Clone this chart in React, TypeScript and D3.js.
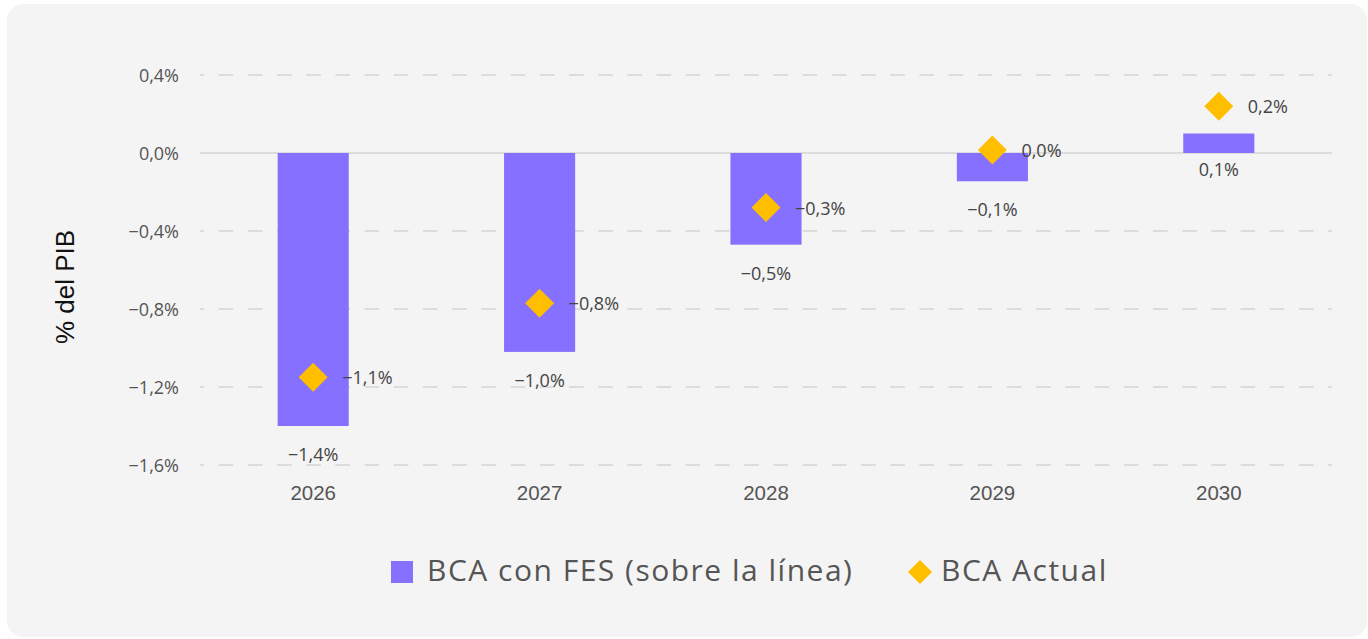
import React from "react";
import * as d3 from "d3";

const years = ["2026", "2027", "2028", "2029", "2030"];
const bcaFes = [-1.4, -1.02, -0.47, -0.145, 0.1];
const bcaFesLabels = ["−1,4%", "−1,0%", "−0,5%", "−0,1%", "0,1%"];
const bcaActual = [-1.15, -0.77, -0.28, 0.015, 0.24];
const bcaActualLabels = ["−1,1%", "−0,8%", "−0,3%", "0,0%", "0,2%"];
const yTicks = [0.4, 0, -0.4, -0.8, -1.2, -1.6];
const yTickLabels = ["0,4%", "0,0%", "−0,4%", "−0,8%", "−1,2%", "−1,6%"];
const legendLabels = ["BCA con FES (sobre la línea)", "BCA Actual"];

const W = 1368;
const H = 639;
const FONT = "'Open Sans', 'Noto Sans', sans-serif";
const ARIAL = "'Liberation Sans', Arial, sans-serif";
const BAR = "#8570FF";
const DIAM = "#FFBF00";

export default function App() {
  const x = d3.scaleBand<string>().domain(years).range([200, 1332]).paddingInner(0.686).paddingOuter(0.343);
  const y = d3.scaleLinear().domain([0.4, -1.6]).range([75, 465]);
  const bw = x.bandwidth();
  const diamondPath = (r: number) => `M0,${-r}L${r},0L0,${r}L${-r},0Z`;

  return (
    <svg width={W} height={H} style={{ position: "fixed", left: 0, top: 0 }} fontFamily={FONT}>
      <rect x={0} y={0} width={W} height={H} fill="#ffffff" />
      <rect x={7} y={4} width={1360} height={633} rx={16} ry={16} fill="#f4f4f4" />
      {yTicks.map((t, i) => (
        <g key={t}>
          <line
            x1={200}
            x2={1332}
            y1={y(t)}
            y2={y(t)}
            stroke="#dcdcdc"
            strokeWidth={2}
            strokeDasharray={t === 0 ? undefined : "14.6,14.6"}
            strokeDashoffset={t === 0 ? undefined : 10.6}
          />
          <text x={179} y={y(t)} textAnchor="end" dominantBaseline="central" fontSize={18} fill="#555">
            {yTickLabels[i]}
          </text>
        </g>
      ))}
      <text
        transform={`translate(74,287) rotate(-90)`}
        textAnchor="middle"
        fontFamily={ARIAL}
        fontSize={26}
        fill="#111"
      >
        % del PIB
      </text>
      {years.map((yr, i) => {
        const cx = (x(yr) ?? 0) + bw / 2;
        const v = bcaFes[i];
        const top = y(Math.max(0, v));
        const bot = y(Math.min(0, v));
        return (
          <g key={yr}>
            <rect x={x(yr)} y={top} width={bw} height={bot - top} fill={BAR} />
            <text
              x={cx}
              y={bot + (v >= 0 ? 16 : 28)}
              textAnchor="middle"
              dominantBaseline="central"
              fontSize={18}
              fill="#444"
            >
              {bcaFesLabels[i]}
            </text>
            <text x={cx} y={500} textAnchor="middle" fontFamily={ARIAL} fontSize={20.5} fill="#555">
              {yr}
            </text>
          </g>
        );
      })}
      {years.map((yr, i) => {
        const cx = (x(yr) ?? 0) + bw / 2;
        const cy = y(bcaActual[i]);
        return (
          <g key={"d" + yr}>
            <path d={diamondPath(14.5)} transform={`translate(${cx},${cy})`} fill={DIAM} />
            <text x={cx + 29} y={cy} dominantBaseline="central" fontSize={18} fill="#444">
              {bcaActualLabels[i]}
            </text>
          </g>
        );
      })}
      <g>
        <rect x={391} y={561} width={22} height={22} fill={BAR} />
        <text x={427} y={580.5} fontSize={30} letterSpacing={1.5} fill="#555">
          {legendLabels[0]}
        </text>
        <path d={diamondPath(12)} transform="translate(920,572)" fill={DIAM} />
        <text x={941} y={580.5} fontSize={30} letterSpacing={1.5} fill="#555">
          {legendLabels[1]}
        </text>
      </g>
    </svg>
  );
}
